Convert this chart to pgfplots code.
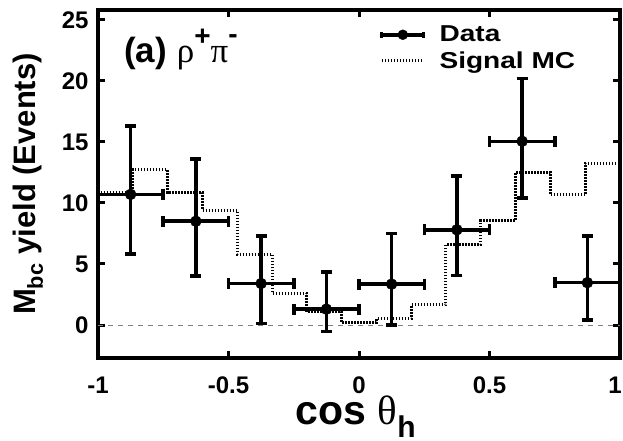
\documentclass[border=0pt]{standalone}
\usepackage{fontspec}
\setmainfont{Liberation Sans}
\newfontfamily\grk{Liberation Serif}
\newfontfamily\legfont[FakeStretch=1.22]{Liberation Sans}
\usepackage{pgfplots}
\pgfplotsset{compat=1.18}
\usepackage{pgfplotstable}

\pgfplotstableread{
x y ex ep em
-0.875 10.7 0.125 5.6 4.9
-0.625 8.5 0.125 5.1 4.5
-0.375 3.4 0.125 3.9 3.26
-0.125 1.3 0.125 3.04 1.85
0.125 3.35 0.125 4.15 3.35
0.375 7.8 0.125 4.4 3.76
0.625 15.05 0.125 5.15 4.65
0.875 3.47 0.125 3.83 3.07
}\datatab

\pgfplotstableread{
x y
-1 0
-1 10.85
-0.8667 12.7
-0.7333 10.85
-0.6 9.4
-0.4667 5.8
-0.3333 2.6
-0.2 1.1
-0.0667 0.2
0.0667 0.5
0.2 1.65
0.3333 6.6
0.4667 8.55
0.6 12.5
0.7333 10.65
0.8667 13.25
1 13.25
1 0
}\mctab

\tikzset{mcline/.style={line width=3bp, dash pattern=on 1.5bp off 1.5bp, black}}

\begin{document}
\begin{tikzpicture}
\begin{axis}[
  at={(0,0)}, anchor=south west,
  scale only axis, width=522bp, height=348bp,
  xmin=-1, xmax=1, ymin=-2.7, ymax=25.8,
  axis line style={line width=4bp},
  xtick={-1,-0.5,0,0.5,1}, xticklabels={-1,-0.5,0,0.5,\kern-10bp 1},
  ytick={0,5,10,15,20,25}, yticklabels={0,5,10,15,20,25},
  tick style={line width=3bp, black}, major tick length=7bp,
  tick align=inside,
  tick label style={font=\fontsize{24bp}{28bp}\selectfont\bfseries},
  xticklabel style={yshift=-15bp},
  yticklabel style={xshift=-6bp},
  xlabel={cos {\mdseries\grk θ}\textsubscript{\fontsize{30bp}{30bp}\selectfont h}},
  xlabel style={font=\fontsize{41bp}{44bp}\selectfont\bfseries, at={(axis description cs:0.494,-0.19)}, anchor=base},
  ylabel={M\textsubscript{bc} yield (Events)},
  ylabel style={font=\fontsize{31bp}{34bp}\selectfont\bfseries, at={(axis description cs:-0.134,0.5)}, anchor=center, rotate=0},
  legend style={draw=none, fill=none, at={(rel axis cs:0.54,0.96)}, anchor=north west,
    font=\fontsize{23bp}{26bp}\selectfont\legfont\bfseries, row sep=4bp, cells={anchor=west}, inner sep=0pt,
    /tikz/every odd column/.append style={column sep=12bp}},
  reverse legend,
  clip=false,
]
\addplot[gray, line width=1bp, dash pattern=on 5bp off 5bp, forget plot] coordinates {(-1,0) (1,0)};
\addplot[mcline, const plot mark left,
  legend image code/.code={\draw[mcline] (0bp,0bp) -- (40bp,0bp);}]
  table[x=x, y=y]{\mctab};
\addlegendentry{Signal MC}
\addplot[black, only marks, mark=*, mark size=5.5bp,
  legend image code/.code={
    \draw[line width=3.5bp] (0bp,0bp) -- (42bp,0bp);
    \draw[line width=3bp] (0bp,-3bp) -- (0bp,3bp);
    \draw[line width=3bp] (42bp,-3bp) -- (42bp,3bp);
    \fill (21bp,0bp) circle (5bp);},
  error bars/.cd, x dir=both, x explicit, y dir=both, y explicit,
  error bar style={line width=3.5bp},
  error mark options={line width=3.5bp, mark size=5.5bp, rotate=90}]
  table[x=x, y=y, x error=ex, y error plus=ep, y error minus=em]{\datatab};
\addlegendentry{Data}
\node[anchor=base west, inner sep=0pt, font=\fontsize{35bp}{38bp}\selectfont] at (rel axis cs:0.05,0.848)
  {\bfseries (a) \mdseries{\grk ρ}\raisebox{0.5em}{\fontsize{28bp}{28bp}\selectfont\bfseries +}{\grk π}\raisebox{0.55em}{\fontsize{28bp}{28bp}\selectfont\bfseries -}};
\end{axis}
\pgfresetboundingbox
\path (-98bp,-83bp) rectangle (525bp,358bp);
\end{tikzpicture}
\end{document}
